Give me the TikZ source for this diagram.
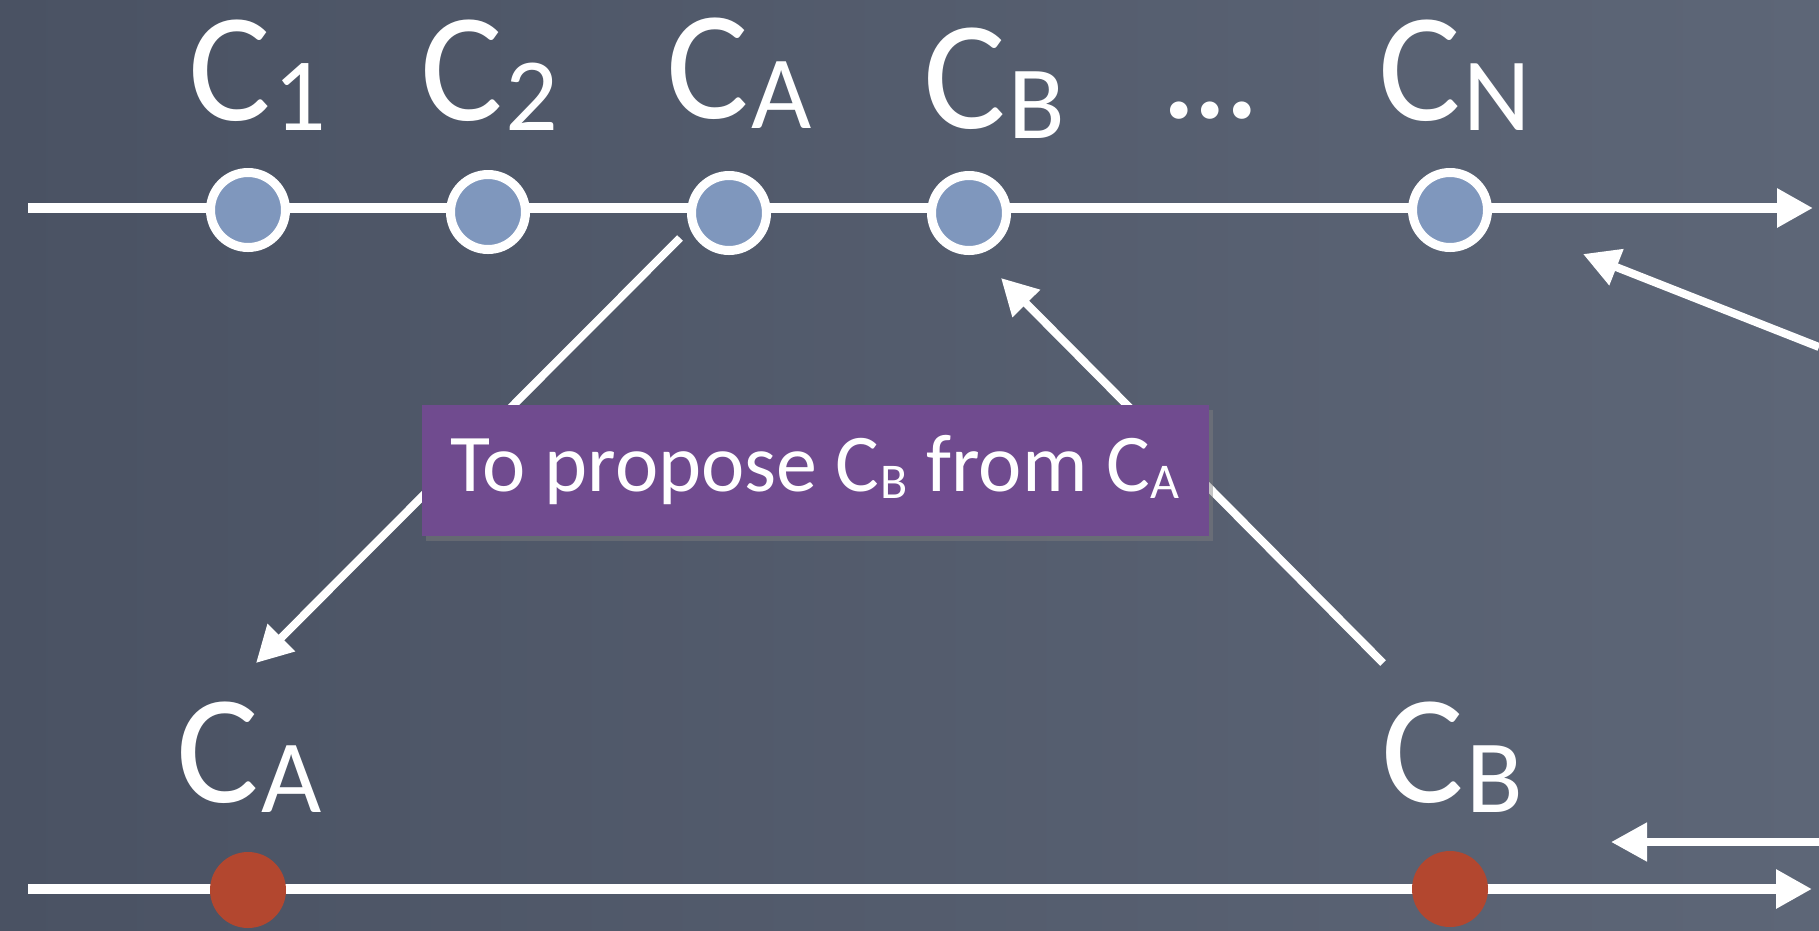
\documentclass[tikz,border=0pt]{standalone}
\usepackage{fontspec}
\setmainfont{Carlito}
\usetikzlibrary{arrows.meta,shadows}
\definecolor{bgL}{HTML}{4A5263}
\definecolor{bgR}{HTML}{5D6677}
\definecolor{dotblue}{HTML}{7F97BD}
\definecolor{dotred}{HTML}{B3472F}
\definecolor{boxpurple}{HTML}{704B8F}
\newcommand\biglab[2]{C\kern3pt\raisebox{-10pt}{\fontsize{104}{104}\selectfont #2}}
\newcommand\smalllab[1]{C\kern1pt\raisebox{-7pt}{\fontsize{50}{50}\selectfont #1}}
\tikzset{
  timeline/.style={draw=white, line width=10pt, -{Triangle[length=36pt,width=37pt]}},
  ptrline/.style={draw=white, line width=8pt, -{Triangle[length=36pt,width=37pt]}},
  bluedot/.style={circle, minimum size=75pt, inner sep=0pt, fill=dotblue, draw=white, line width=9pt},
  reddot/.style={circle, minimum size=76pt, inner sep=0pt, fill=dotred},
  lbl/.style={anchor=base west, inner sep=0pt, text=white, font=\fontsize{155}{155}\selectfont},
  notebox/.style={fill=boxpurple, minimum width=787pt, minimum height=131pt, inner sep=0pt,
    text=white, font=\fontsize{82}{82}\selectfont,
    drop shadow={shadow xshift=4pt, shadow yshift=-5pt, opacity=0.45}}
}
\begin{document}
\begin{tikzpicture}[x=1pt,y=-1pt]
\useasboundingbox (0,0) rectangle (1819,930);
\fill[left color=bgL, right color=bgR] (0,0) rectangle (1819,930);

% timelines
\coordinate (t0) at (28,208);
\coordinate (t1) at (1813,208);
\coordinate (b0) at (28,889);
\coordinate (b1) at (1812,889);
\draw[timeline] (t0) -- (t1);
\draw[timeline] (b0) -- (b1);

% pointers behind the box
\coordinate (p1s) at (680,238);
\coordinate (p1e) at (256,663);
\coordinate (p2s) at (1383,663);
\coordinate (p2e) at (1001,278);
\coordinate (p3s) at (1819,347);
\coordinate (p3e) at (1583,254);
\coordinate (p4s) at (1819,842);
\coordinate (p4e) at (1611,842);
\draw[ptrline] (p1s) -- (p1e);
\draw[ptrline] (p2s) -- (p2e);
\draw[ptrline] (p3s) -- (p3e);
\draw[ptrline] (p4s) -- (p4e);

% note box
\node[notebox] (box) at (815,470) {To propose \smalllab{B} from \smalllab{A}};

% dots on top timeline
\node[bluedot] (c1) at (248,210) {};
\node[bluedot] (c2) at (488,212) {};
\node[bluedot] (ca) at (729,213) {};
\node[bluedot] (cb) at (969,213) {};
\node[bluedot] (cn) at (1450,210) {};

% dots on bottom timeline
\node[reddot] (ra) at (248,890) {};
\node[reddot] (rb) at (1450,889) {};

% labels
\node[lbl] (l1) at (188,120) {\biglab{C}{1}};
\node[lbl] (l2) at (420,120) {\biglab{C}{2}};
\node[lbl] (la) at (666,118) {\biglab{C}{A}};
\node[lbl] (lb) at (923,128) {\biglab{C}{B}};
\node[lbl, font=\fontsize{118}{118}\bfseries] (ld) at (1163,118) {...};
\node[lbl] (ln) at (1378,120) {\biglab{C}{N}};
\node[lbl] (ba) at (176,802) {\biglab{C}{A}};
\node[lbl] (bb) at (1381,802) {\biglab{C}{B}};
\end{tikzpicture}
\end{document}
